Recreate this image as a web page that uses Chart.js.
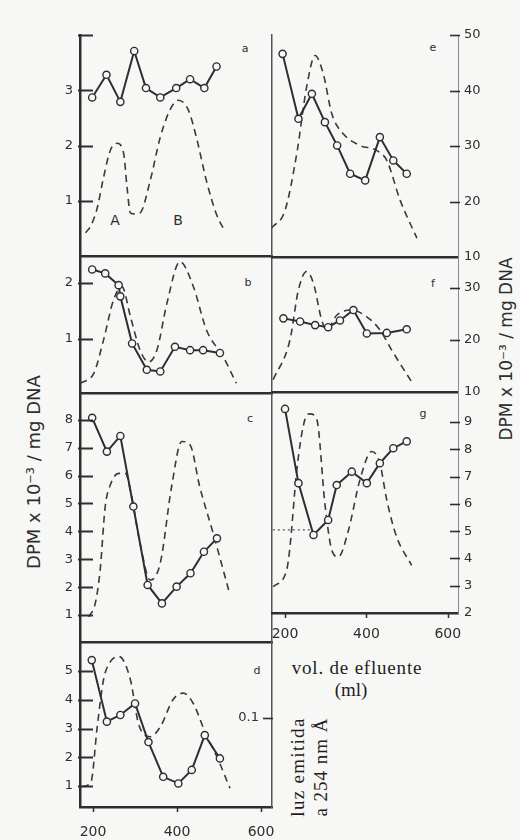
<!DOCTYPE html>
<html><head><meta charset="utf-8">
<script src="https://cdn.jsdelivr.net/npm/chart.js@4.4.1/dist/chart.umd.min.js"></script>
<style>
html,body{margin:0;padding:0;background:#f7f7f5;}
#wrap{position:relative;width:520px;height:840px;overflow:hidden;}
#wrap canvas{position:absolute;left:0;top:0;}
.t{position:absolute;color:#2e2e2e;font-family:"DejaVu Sans",sans-serif;white-space:nowrap;transform:translate(-50%,-50%);line-height:1;}
.rot{transform:translate(-50%,-50%) rotate(-90deg);}
.serif{font-family:"Liberation Serif",serif;color:#1e1e1e;}
</style></head><body><div id="wrap">
<div class="t" style="left:245px;top:48px;font-size:11px">a</div>
<div class="t" style="left:248px;top:282px;font-size:11px">b</div>
<div class="t" style="left:250px;top:418px;font-size:11px">c</div>
<div class="t" style="left:257px;top:670px;font-size:11px">d</div>
<div class="t" style="left:433px;top:47px;font-size:11px">e</div>
<div class="t" style="left:433px;top:283px;font-size:11px">f</div>
<div class="t" style="left:423px;top:413px;font-size:11px">g</div>
<div class="t" style="left:115px;top:220px;font-size:14px">A</div>
<div class="t" style="left:178px;top:220px;font-size:14px">B</div>
<div class="t rot" style="left:34px;top:472px;font-size:18px">DPM x 10⁻³ / mg DNA</div>
<div class="t rot" style="left:506px;top:349px;font-size:17px">DPM x 10⁻³ / mg DNA</div>
<div class="t serif" style="left:357px;top:667px;font-size:19px;letter-spacing:0.8px">vol. de efluente</div>
<div class="t serif" style="left:351px;top:689px;font-size:19px">(ml)</div>
<div class="t serif rot" style="left:297px;top:767px;font-size:19px;letter-spacing:1.3px">luz emitida</div>
<div class="t serif rot" style="left:320px;top:767px;font-size:19px;letter-spacing:1px">a 254 nm Å</div>
</div>
<script>
// ---------- data (vol. de efluente in ml) ----------
const volTicks = [200, 400, 600];

// panel a
const volA = [198, 232, 265, 298, 326, 360, 398, 431, 465, 494];
const dpmA = [2.87, 3.28, 2.79, 3.71, 3.04, 2.87, 3.04, 3.20, 3.04, 3.43];
const absVolA = [182, 195, 210, 225, 241, 257, 273, 281, 289, 300, 312, 336, 360, 383, 403, 427, 446, 470, 494, 514];
const absA = [0.42, 0.55, 0.87, 1.42, 1.91, 2.04, 1.85, 1.24, 0.78, 0.76, 0.78, 1.36, 2.15, 2.64, 2.82, 2.64, 2.15, 1.36, 0.75, 0.45];
const ticksA = [1, 2, 3, 4], labelsA = [1, 2, 3];

// panel b
const volB = [198, 229, 261, 265, 293, 328, 360, 395, 431, 462, 502];
const dpmB = [2.24, 2.17, 1.96, 1.76, 0.92, 0.45, 0.42, 0.86, 0.80, 0.80, 0.75];
const absVolB = [170, 202, 225, 249, 269, 289, 312, 332, 352, 376, 407, 439, 470, 510, 541];
const absB = [0.21, 0.39, 0.98, 1.70, 1.93, 1.40, 0.80, 0.59, 0.80, 1.64, 2.38, 1.93, 1.16, 0.68, 0.21];
const ticksB = [1, 2], labelsB = [1, 2];

// panel c
const volC = [198, 233, 265, 296, 330, 364, 399, 432, 464, 495];
const dpmC = [8.07, 6.86, 7.42, 4.89, 2.08, 1.42, 2.02, 2.50, 3.27, 3.75];
const absVolC = [190, 205, 217, 229, 241, 261, 277, 289, 312, 336, 360, 387, 411, 431, 454, 486, 526];
const absC = [0.94, 1.4, 2.62, 4.89, 5.66, 6.08, 6.08, 5.48, 3.57, 2.26, 2.86, 5.60, 7.22, 7.10, 5.60, 3.93, 1.72];
const ticksC = [1, 2, 3, 4, 5, 6, 7, 8], labelsC = [1, 2, 3, 4, 5, 6, 7, 8];

// panel d (dashed on absorbance scale)
const volD = [197, 233, 265, 300, 332, 367, 403, 435, 466, 502];
const dpmD = [5.38, 3.24, 3.47, 3.87, 2.53, 1.32, 1.09, 1.56, 2.77, 1.96];
const absVolD = [174, 195, 210, 225, 241, 262, 289, 308, 336, 360, 391, 415, 439, 466, 498, 526];
const absD = [0.023, 0.028, 0.090, 0.143, 0.163, 0.169, 0.143, 0.094, 0.079, 0.090, 0.121, 0.128, 0.116, 0.085, 0.053, 0.021];
const ticksD = [1, 2, 3, 4, 5], labelsD = [1, 2, 3, 4, 5];
const absTicksD = [0.1];

// panel e
const volE = [194, 233, 266, 298, 328, 360, 397, 433, 466, 499];
const dpmE = [46.6, 34.9, 39.4, 34.3, 30.1, 25.0, 23.8, 31.6, 27.4, 25.0];
const absVolE = [167, 200, 229, 253, 274, 294, 315, 343, 384, 425, 450, 483, 524];
const absE = [15.2, 18.4, 28.7, 40.6, 46.3, 43.0, 35.8, 32.2, 30.1, 29.2, 27.4, 20.2, 13.4];
const ticksE = [10, 20, 30, 40, 50], labelsE = [10, 20, 30, 40, 50];

// panel f
const volF = [196, 237, 274, 306, 335, 368, 401, 450, 499];
const dpmF = [24.1, 23.5, 22.8, 22.4, 23.7, 25.7, 21.2, 21.3, 22.0];
const absVolF = [171, 212, 233, 253, 270, 290, 302, 327, 364, 401, 433, 462, 511];
const absF = [12.3, 19.9, 29.6, 33.1, 30.8, 23.8, 21.9, 24.7, 25.7, 24.4, 21.9, 18.0, 11.9];
const ticksF = [10, 20, 30], labelsF = [10, 20, 30];

// panel g
const volG = [200, 233, 270, 306, 327, 364, 401, 433, 466, 499];
const dpmG = [9.48, 6.76, 4.86, 5.41, 6.69, 7.18, 6.76, 7.49, 8.04, 8.29];
const absVolG = [171, 204, 212, 229, 249, 261, 278, 298, 315, 331, 356, 384, 413, 433, 450, 474, 511];
const absG = [2.96, 3.57, 4.4, 7.25, 9.1, 9.3, 9.1, 6.0, 4.3, 4.06, 5.04, 6.88, 7.92, 7.49, 6.14, 4.8, 3.75];
const baseVolG = [170, 262];
const baseG = [5.05, 5.05];
const ticksG = [2, 3, 4, 5, 6, 7, 8, 9], labelsG = [2, 3, 4, 5, 6, 7, 8, 9];

// ---------- drawing ----------
const wrap = document.getElementById('wrap');
const INK = '#2e2e2e';
const BG = '#f7f7f5';
const pts = (xs, ys) => xs.map((x, i) => ({x, y: ys[i]}));

const inTick = {
  id: 'inTick',
  afterDraw(chart, _a, opts) {
    const ctx = chart.ctx, ca = chart.chartArea;
    (opts.marks || []).forEach(m => {
      const sc = chart.scales[m.scale];
      ctx.save();
      ctx.strokeStyle = m.color || INK;
      ctx.lineWidth = m.width || 2;
      m.values.forEach(v => {
        const p = Math.round(sc.getPixelForValue(v)) + 0.5;
        ctx.beginPath();
        if (sc.isHorizontal()) { ctx.moveTo(p, ca.bottom - m.inLen); ctx.lineTo(p, ca.bottom + m.outLen); }
        else if (sc.position === 'left') { ctx.moveTo(ca.left - m.outLen, p); ctx.lineTo(ca.left + m.inLen, p); }
        else { ctx.moveTo(ca.right + m.outLen, p); ctx.lineTo(ca.right - m.inLen, p); }
        ctx.stroke();
      });
      ctx.restore();
    });
  }
};

function makePanel(o) {
  const cv = document.createElement('canvas');
  cv.width = 520; cv.height = 840;
  wrap.appendChild(cv);
  const left = o.side === 'left';
  const yW = 40, xH = o.xTicks ? 40 : 0;
  const tickFont = {family: 'DejaVu Sans', size: 13};
  const datasets = [
    {label: 'DPM', data: pts(o.vol, o.dpm), yAxisID: 'y', borderColor: INK, borderWidth: 2, tension: 0,
     pointRadius: 3.6, pointBackgroundColor: BG, pointBorderColor: INK, pointBorderWidth: 1.4, order: 1},
    {label: 'A254', data: pts(o.absVol, o.abs), yAxisID: o.absAxis || 'y', borderColor: '#3a3a3a', borderWidth: 1.6,
     borderDash: [7, 5], pointRadius: 0, cubicInterpolationMode: 'monotone', order: 2}
  ];
  if (o.extra) datasets.push({label: 'base', data: pts(o.extra[0], o.extra[1]), yAxisID: 'y', borderColor: '#555',
     borderWidth: 1.2, borderDash: [2, 3], pointRadius: 0, order: 3});
  const scales = {
    x: {type: 'linear', min: o.xMin, max: o.xMax, position: 'bottom',
        afterFit: s => { s.height = xH; },
        grid: {display: false, drawTicks: false},
        border: {display: true, color: INK, width: 2.5},
        ticks: {display: !!o.xTicks, padding: o.xPad || 14, color: INK, font: {family: 'DejaVu Sans', size: 14},
                autoSkip: false, maxRotation: 0}},
    y: {type: 'linear', min: o.yMin, max: o.yMax, position: o.side,
        afterFit: s => { s.width = yW; },
        afterBuildTicks: s => { s.ticks = o.yTicks.map(v => ({value: v})); },
        grid: {display: false, drawTicks: false},
        border: left ? {display: true, color: INK, width: 2.5} : {display: true, color: '#8a8a8a', width: 1, dash: [4, 2]},
        ticks: {padding: left ? 7 : 6, color: INK, font: tickFont, autoSkip: false,
                callback: v => o.yLabels.includes(v) ? String(v) : ''}}
  };
  if (o.xTicks) scales.x.afterBuildTicks = s => { s.ticks = o.xTicks.map(v => ({value: v})); };
  if (left) {
    scales.yR = {type: 'linear', position: 'right', min: o.rMin ?? 0, max: o.rMax ?? 1,
      afterFit: s => { s.width = 0; },
      grid: {display: false, drawTicks: false},
      border: {display: true, color: '#555', width: 1.5},
      ticks: {display: !!o.rTicks, mirror: true, padding: -13, color: INK, font: tickFont, autoSkip: false}};
    if (o.rTicks) scales.yR.afterBuildTicks = s => { s.ticks = o.rTicks.map(v => ({value: v})); };
  }
  const marks = [{scale: 'y', values: o.tickMarks || o.yTicks, inLen: left ? 13 : 8, outLen: 2, width: left ? 2 : 1.6}];
  if (o.xTicks) marks.push({scale: 'x', values: o.xTicks, inLen: 0, outLen: 5, width: 1.5});
  if (o.rTicks) marks.push({scale: 'yR', values: o.rTicks, inLen: 9, outLen: 1, width: 1.6});
  const padding = left
    ? {left: o.box.l - yW, right: 520 - o.box.r, top: o.box.t, bottom: 840 - o.box.b - xH}
    : {left: o.box.l, right: 520 - o.box.r - yW, top: o.box.t, bottom: 840 - o.box.b - xH};
  new Chart(cv, {
    type: 'line',
    data: {datasets},
    options: {
      responsive: false, animation: false, devicePixelRatio: 1,
      layout: {padding},
      scales,
      plugins: {legend: {display: false}, tooltip: {enabled: false}, title: {display: false}, inTick: {marks}}
    },
    plugins: [inTick]
  });
}

const LX = {xMin: 169, xMax: 626};
const RX = {xMin: 168, xMax: 625};

makePanel({...LX, side: 'left', box: {l: 80, r: 272, t: 35, b: 256}, yMin: 0, yMax: 4,
  yTicks: ticksA, yLabels: labelsA, vol: volA, dpm: dpmA, absVol: absVolA, abs: absA});
makePanel({...LX, side: 'left', box: {l: 80, r: 272, t: 256, b: 393}, yMin: 0.036, yMax: 2.48,
  yTicks: ticksB, yLabels: labelsB, vol: volB, dpm: dpmB, absVol: absVolB, abs: absB});
makePanel({...LX, side: 'left', box: {l: 80, r: 272, t: 393, b: 642}, yMin: 0.036, yMax: 8.96,
  yTicks: ticksC, yLabels: labelsC, vol: volC, dpm: dpmC, absVol: absVolC, abs: absC});
makePanel({...LX, side: 'left', box: {l: 80, r: 272, t: 642, b: 807}, yMin: 0.27, yMax: 6.01,
  yTicks: ticksD, yLabels: labelsD, vol: volD, dpm: dpmD, absVol: absVolD, abs: absD,
  absAxis: 'yR', rMin: 0, rMax: 0.1854, rTicks: absTicksD, xTicks: volTicks, xPad: 17});
makePanel({...RX, side: 'right', box: {l: 272, r: 458, t: 35, b: 257}, yMin: 10, yMax: 50,
  yTicks: ticksE, yLabels: labelsE, tickMarks: [20, 30, 40, 50], vol: volE, dpm: dpmE, absVol: absVolE, abs: absE});
makePanel({...RX, side: 'right', box: {l: 272, r: 458, t: 257, b: 392}, yMin: 9.94, yMax: 35.9,
  yTicks: ticksF, yLabels: labelsF, tickMarks: [20, 30], vol: volF, dpm: dpmF, absVol: absVolF, abs: absF});
makePanel({...RX, side: 'right', box: {l: 272, r: 458, t: 392, b: 613}, yMin: 2.0, yMax: 10.1,
  yTicks: ticksG, yLabels: labelsG, tickMarks: [3, 4, 5, 6, 7, 8, 9], vol: volG, dpm: dpmG, absVol: absVolG, abs: absG,
  extra: [baseVolG, baseG], xTicks: volTicks, xPad: 13});
</script>
</body></html>
